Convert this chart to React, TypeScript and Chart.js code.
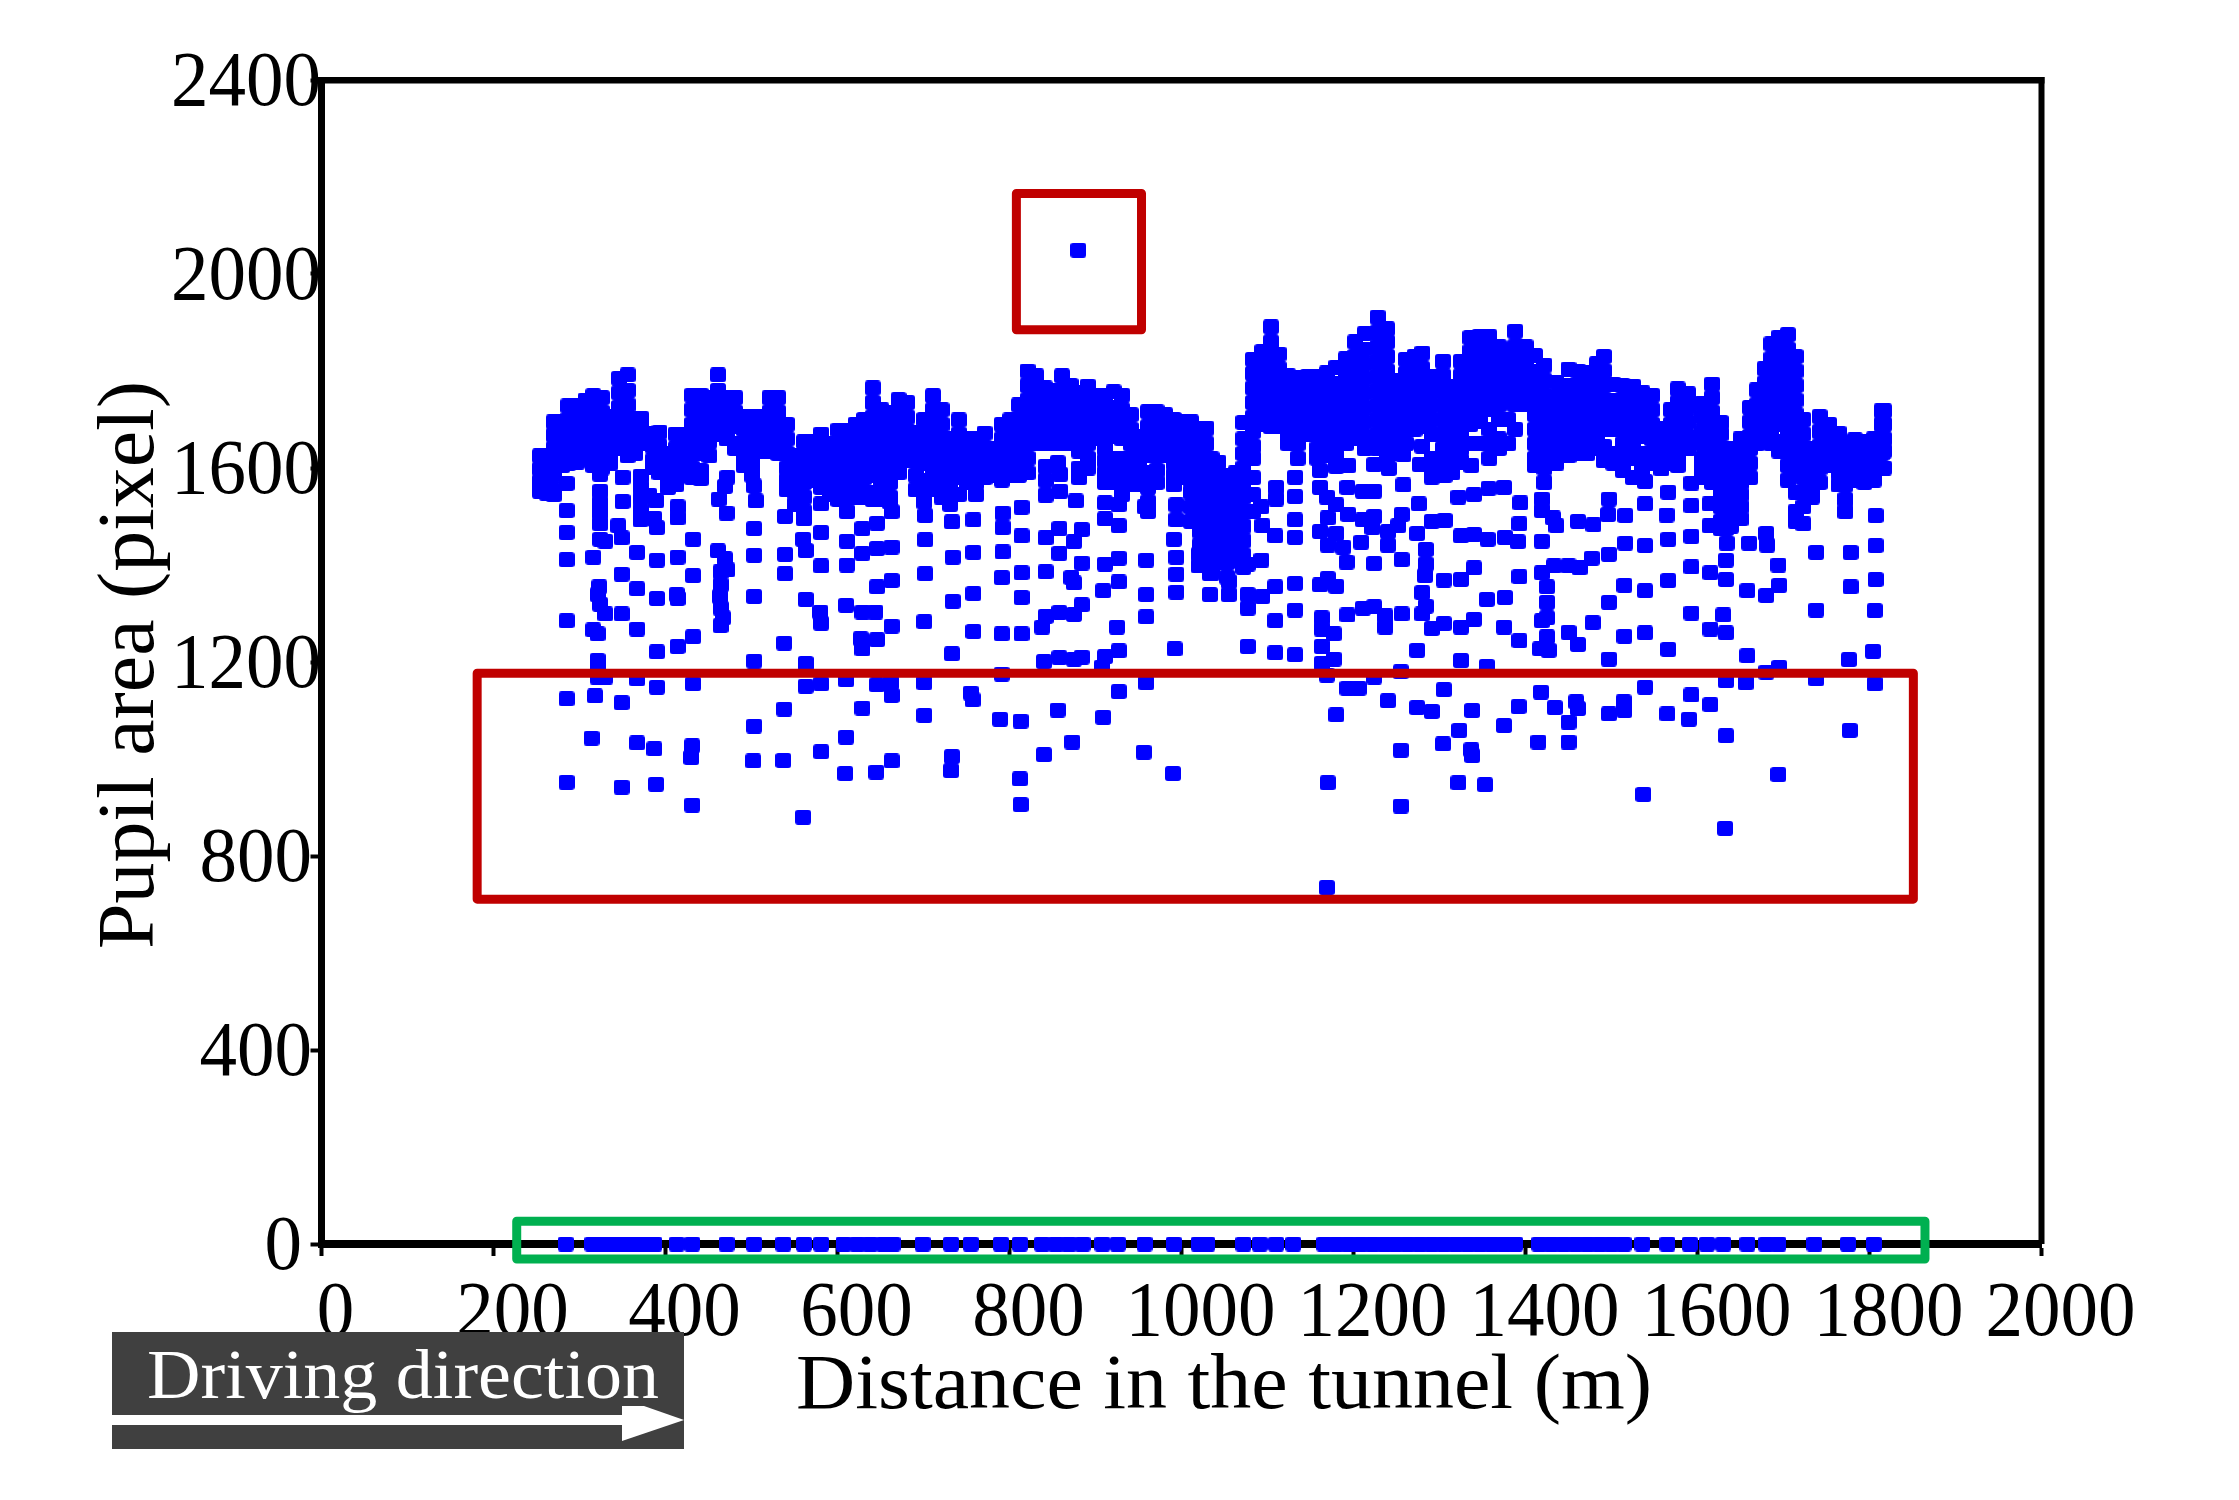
import React from "react";
import { Chart, registerables } from "chart.js";

Chart.register(...registerables);

const xTicks = [0, 200, 400, 600, 800, 1000, 1200, 1400, 1600, 1800, 2000];
const yTicks = [0, 400, 800, 1200, 1600, 2000, 2400];

// every row is one distance followed by the pupil areas read at that distance
const bandRows: number[][] = [
    [254, 1625, 1598, 1572, 1552], [262, 1625, 1600, 1575, 1548], [270, 1695, 1668, 1640, 1612, 1585, 1555, 1545],
    [280, 1695, 1665, 1635, 1605], [287, 1728, 1700, 1670, 1640, 1610], [297, 1728, 1700, 1670, 1640, 1612],
    [307, 1740, 1710, 1680, 1650, 1620], [316, 1749, 1720, 1690, 1660, 1630, 1605], [326, 1745, 1715, 1685, 1655, 1625, 1600],
    [336, 1706, 1680, 1650, 1620, 1610], [346, 1785, 1755, 1725, 1695, 1665, 1640], [356, 1792, 1760, 1730, 1700, 1670, 1640, 1625],
    [365, 1702, 1675, 1645, 1630], [372, 1702, 1680, 1650], [385, 1672, 1645, 1615, 1602], [393, 1674, 1645, 1615, 1590],
    [403, 1630, 1600, 1575, 1560], [412, 1670, 1640, 1610, 1585, 1565], [422, 1670, 1640, 1610, 1585],
    [431, 1750, 1720, 1690, 1660, 1630, 1600, 1580], [441, 1750, 1720, 1690, 1660, 1630, 1595, 1578],
    [451, 1745, 1715, 1685, 1655, 1625], [461, 1792, 1760, 1730, 1700, 1670], [471, 1745, 1715, 1685, 1660],
    [481, 1745, 1715, 1685, 1650, 1640], [491, 1706, 1680, 1650, 1620, 1605], [501, 1706, 1680, 1650, 1620, 1600, 1585],
    [511, 1706, 1680, 1650, 1635], [521, 1745, 1715, 1685, 1655, 1635], [531, 1745, 1715, 1685, 1655, 1630],
    [541, 1690, 1660, 1630, 1600, 1575, 1555], [551, 1625, 1600, 1575, 1550, 1525], [561, 1654, 1625, 1595, 1570, 1540, 1510, 1495],
    [571, 1654, 1625, 1600, 1575], [581, 1670, 1640, 1610, 1580, 1560], [591, 1650, 1620, 1590, 1565, 1545],
    [601, 1678, 1650, 1620, 1590, 1560, 1535], [611, 1678, 1650, 1620, 1590, 1560, 1540], [621, 1690, 1660, 1630, 1600, 1570, 1540],
    [631, 1700, 1670, 1640, 1610, 1580, 1550, 1540], [641, 1765, 1735, 1705, 1675, 1645, 1615, 1585, 1550, 1535],
    [651, 1720, 1690, 1660, 1630, 1600, 1575, 1550, 1535], [661, 1715, 1685, 1655, 1625, 1600, 1570, 1540, 1530],
    [671, 1741, 1710, 1680, 1650, 1620, 1590], [681, 1735, 1705, 1675, 1645, 1615], [691, 1674, 1645, 1615, 1585, 1555],
    [701, 1700, 1670, 1640, 1610, 1575, 1545, 1530], [711, 1749, 1720, 1690, 1660, 1630, 1600, 1570, 1555],
    [721, 1720, 1690, 1660, 1630, 1600, 1570, 1540], [731, 1660, 1630, 1600, 1570, 1540, 1525], [741, 1699, 1670, 1640, 1610, 1580, 1545],
    [751, 1660, 1630, 1600, 1570], [761, 1660, 1630, 1600, 1570, 1545], [771, 1672, 1640, 1610, 1580], [781, 1640, 1610, 1585],
    [791, 1690, 1660, 1630, 1600, 1575], [801, 1699, 1670, 1640, 1610, 1585], [811, 1730, 1700, 1670, 1640, 1610, 1585],
    [821, 1800, 1770, 1740, 1710, 1680, 1650, 1620, 1590], [831, 1790, 1760, 1730, 1700, 1670, 1650], [841, 1765, 1735, 1705, 1675, 1650],
    [851, 1760, 1730, 1700, 1670, 1650], [861, 1790, 1760, 1730, 1700, 1670, 1650], [871, 1770, 1740, 1710, 1680, 1650],
    [881, 1755, 1725, 1695, 1665, 1635, 1600, 1580], [891, 1769, 1740, 1710, 1680, 1650, 1620, 1600], [901, 1750, 1720, 1690, 1660],
    [911, 1750, 1720, 1690, 1660, 1640, 1615, 1590, 1570], [921, 1757, 1725, 1695, 1665, 1620, 1590, 1570],
    [931, 1750, 1720, 1690, 1660, 1620, 1590, 1575, 1545], [941, 1710, 1680, 1650, 1620, 1590, 1565], [951, 1665, 1640, 1610, 1585, 1565],
    [961, 1716, 1685, 1655, 1625, 1590, 1560, 1530, 1510], [971, 1716, 1685, 1655, 1625, 1595, 1570], [981, 1710, 1680, 1650, 1625],
    [991, 1700, 1670, 1640, 1610, 1585, 1565], [1001, 1695, 1665, 1635, 1605, 1580], [1011, 1695, 1665, 1635, 1605, 1575, 1550, 1520, 1490],
    [1021, 1682, 1650, 1620, 1590, 1560, 1530, 1500, 1470, 1440, 1410], [1029, 1682, 1650, 1620, 1590, 1560, 1530, 1500, 1470, 1440, 1410],
    [1035, 1619, 1590, 1560, 1530, 1500, 1470, 1440, 1410], [1043, 1612, 1585, 1555, 1525, 1495, 1465, 1435, 1405],
    [1053, 1585, 1555, 1525, 1495, 1465, 1435, 1405, 1375], [1063, 1590, 1560, 1530, 1500, 1470, 1440, 1410],
    [1072, 1694, 1660, 1630, 1600, 1570, 1540, 1510, 1480, 1450, 1420, 1395], [1083, 1824, 1795, 1765, 1735, 1705, 1675, 1645, 1620, 1580, 1545, 1510],
    [1094, 1840, 1810, 1780, 1750, 1720, 1690], [1104, 1891, 1860, 1830, 1800, 1770, 1740, 1710, 1685], [1113, 1835, 1805, 1775, 1745, 1715, 1685],
    [1124, 1790, 1760, 1730, 1700, 1670, 1650], [1135, 1786, 1755, 1725, 1695, 1665, 1650, 1620], [1147, 1789, 1760, 1730, 1700, 1670],
    [1158, 1789, 1760, 1730, 1700, 1670, 1640, 1620], [1169, 1796, 1765, 1735, 1705, 1675, 1645, 1625], [1180, 1808, 1775, 1745, 1715, 1685, 1655, 1625],
    [1191, 1825, 1795, 1765, 1735, 1705, 1675, 1650], [1202, 1860, 1830, 1800, 1770, 1740, 1710, 1680, 1660],
    [1213, 1877, 1845, 1815, 1785, 1755, 1725, 1695, 1665, 1640], [1228, 1911, 1880, 1850, 1820, 1790, 1760, 1730, 1700, 1670, 1640],
    [1239, 1887, 1860, 1830, 1800, 1770, 1740, 1710, 1680, 1650, 1625], [1249, 1781, 1750, 1720, 1690, 1660, 1630],
    [1261, 1824, 1795, 1765, 1735, 1705, 1680, 1650], [1271, 1830, 1800, 1770, 1740, 1710, 1680], [1280, 1837, 1805, 1775, 1745, 1715, 1685, 1645],
    [1291, 1789, 1760, 1730, 1700, 1670, 1620, 1600], [1304, 1820, 1790, 1760, 1730, 1700, 1670, 1640, 1615, 1590], [1315, 1769, 1740, 1710, 1680, 1650, 1620, 1590],
    [1325, 1820, 1790, 1760, 1730, 1700, 1670, 1640, 1615], [1336, 1869, 1840, 1810, 1780, 1750, 1720, 1690, 1650],
    [1347, 1872, 1840, 1810, 1780, 1750, 1720, 1695, 1650], [1358, 1871, 1840, 1810, 1780, 1750, 1720, 1680, 1650, 1620],
    [1369, 1850, 1820, 1790, 1760, 1730, 1700, 1660, 1640], [1380, 1828, 1800, 1770, 1740, 1700, 1650], [1388, 1882, 1850, 1820, 1790, 1760, 1730, 1680],
    [1400, 1850, 1820, 1790, 1760, 1730], [1411, 1832, 1800, 1770, 1740, 1710, 1680, 1650, 1620, 1605], [1422, 1812, 1780, 1750, 1720, 1690, 1660, 1630, 1600, 1570],
    [1436, 1777, 1745, 1715, 1685, 1655, 1625, 1610], [1450, 1804, 1770, 1740, 1710, 1680, 1650, 1625], [1461, 1800, 1770, 1740, 1710, 1680, 1650, 1630],
    [1472, 1796, 1765, 1735, 1705, 1675, 1645, 1630], [1483, 1815, 1785, 1755, 1725, 1695, 1665, 1640], [1491, 1830, 1800, 1770, 1740, 1710, 1680, 1645, 1615],
    [1502, 1773, 1740, 1710, 1680, 1630, 1610], [1513, 1770, 1740, 1710, 1680, 1650, 1620, 1595], [1525, 1769, 1740, 1710, 1680, 1650, 1620, 1580],
    [1536, 1755, 1725, 1695, 1665, 1630, 1610, 1590], [1547, 1750, 1720, 1690, 1660, 1630, 1610], [1558, 1682, 1650, 1620, 1598],
    [1569, 1720, 1690, 1660, 1630, 1610], [1577, 1763, 1735, 1705, 1675, 1645, 1620, 1605], [1589, 1753, 1725, 1695, 1665, 1640],
    [1605, 1733, 1705, 1675, 1650, 1620, 1600, 1580], [1617, 1773, 1745, 1715, 1685, 1655, 1625, 1595, 1570],
    [1627, 1694, 1670, 1640, 1610, 1580, 1550, 1520, 1490, 1475], [1639, 1640, 1610, 1580, 1550, 1520, 1500, 1480],
    [1650, 1660, 1630, 1600, 1570, 1545, 1520, 1495], [1661, 1725, 1695, 1665, 1640, 1610, 1580], [1669, 1761, 1730, 1700, 1670, 1650],
    [1678, 1805, 1775, 1745, 1715, 1685, 1655], [1686, 1856, 1825, 1795, 1765, 1735, 1705, 1675, 1650], [1695, 1870, 1840, 1810, 1780, 1750, 1720, 1690, 1655, 1635],
    [1705, 1875, 1845, 1815, 1785, 1755, 1725, 1695, 1665, 1635, 1605, 1575], [1714, 1830, 1800, 1770, 1740, 1710, 1680, 1650, 1620, 1590, 1550, 1510, 1490],
    [1723, 1700, 1670, 1640, 1610, 1580, 1550, 1520, 1485], [1733, 1640, 1610, 1580, 1555, 1540], [1742, 1706, 1675, 1645, 1615, 1600, 1570],
    [1753, 1690, 1660, 1630, 1605], [1764, 1672, 1645, 1615, 1590, 1565], [1772, 1650, 1620, 1590, 1565, 1535, 1510], [1783, 1658, 1630, 1600, 1575],
    [1794, 1654, 1625, 1595, 1570], [1805, 1660, 1630, 1600, 1575], [1814, 1718, 1690, 1660, 1630, 1600], [1817, 1718, 1690, 1660, 1635, 1600],
];

const lowerRows: number[][] = [
    [285, 1568, 1512, 1467, 1411, 1285, 1124, 952], [316, 1416, 1266], [321, 1258, 1203, 1185, 1169, 1339], [330, 1169, 1449, 1299], [318, 1130], [314, 1043],
    [324, 1615, 1587, 1552, 1528, 1508, 1485, 1453, 1319], [323, 1355], [350, 1581, 1531], [345, 1481], [349, 1456, 1381, 1299, 1116, 942],
    [367, 1426, 1351, 1268, 1165, 1033], [371, 1583, 1560, 1536, 1512, 1493], [381, 1544], [389, 1532, 948], [387, 1496, 1021], [390, 1477, 1410, 1331, 1221, 1148],
    [414, 1520, 1497, 1416, 1331, 1232], [413, 1339], [432, 1453, 1378, 1252, 1155], [431, 1027, 905], [430, 1003],
    [462, 1536], [469, 1562, 1413], [472, 1581, 1390], [471, 1507], [461, 1429], [464, 1386, 1359, 1311, 1275], [463, 1335], [467, 1291],
    [505, 1532], [503, 1563, 1475, 1420, 1335, 1202, 1068], [502, 996], [539, 1500, 1422, 1382], [538, 1239, 1103], [537, 997], [560, 1453, 880],
    [563, 1430, 1329, 1197, 1150], [581, 1526, 1467, 1398, 1280, 1155, 1015], [580, 1303], [611, 1510, 1449, 1400], [610, 1317, 1163, 1045], [609, 970],
    [629, 1475, 1424, 1303, 1227, 1105], [627, 1248], [646, 1486, 1434, 1355, 1246, 1153], [644, 1303], [645, 973], [663, 1510, 1437, 1368, 1274, 1131, 996], [662, 1157],
    [702, 1502, 1452, 1382], [701, 1283, 1157, 1090], [733, 1489, 1217, 1005], [734, 1416, 1325], [732, 976], [758, 1493, 1426, 1341, 1263], [755, 1136], [757, 1122],
    [792, 1507, 1477, 1427], [791, 1374, 1258, 1175], [789, 1082], [814, 1519, 1460, 1384, 1333, 1258], [813, 1078, 906], [812, 959],
    [842, 1603, 1575, 1544, 1456, 1386, 1294], [838, 1272], [840, 1201, 1009], [858, 1475, 1424, 1302, 1209], [856, 1611, 1101], [859, 1587, 1552],
    [877, 1532], [875, 1448, 1363, 1298, 1206], [884, 1473, 1404, 1318, 1210], [872, 1374], [873, 1035], [911, 1528, 1495, 1402, 1211], [909, 1347, 1086], [925, 1272], [907, 1189],
    [927, 1524, 1481, 1414, 1365, 1223, 1139], [957, 1520], [959, 1410, 1339, 1293, 1157], [956, 1014], [994, 1524, 1493, 1416, 1381, 1344], [991, 1453], [992, 1227], [990, 970], [1020, 1516, 1489, 1422, 1398],
    [1033, 1339, 1382], [1035, 1382], [1055, 1339, 1366], [1077, 1402, 1339, 1311, 1232], [1093, 1520, 1410], [1094, 1481, 1335], [1109, 1460, 1355, 1285, 1219],
    [1110, 1560, 1536], [1132, 1581, 1541, 1493, 1457, 1362, 1307, 1215], [1161, 1595, 1560, 1469, 1359], [1163, 1291, 1268, 1232, 1197], [1169, 1540, 1173], [1170, 1497, 1441, 1372, 951],
    [1177, 1258, 1206], [1180, 1603, 1524, 1465, 1356, 1091], [1188, 1437], [1192, 1406], [1193, 1560, 1297, 1146], [1194, 1605, 1504], [1206, 1146], [1209, 1447],
    [1211, 1552, 1493, 1311], [1222, 1477], [1224, 1607, 1552, 1500, 1403, 1314, 1169], [1237, 1295, 1272], [1240, 1469, 1441, 1120], [1241, 1599], [1252, 1481],
    [1255, 1180, 1018, 903], [1256, 1504, 1411, 1299], [1258, 1627, 1565], [1274, 1465, 1224, 1106], [1276, 1526], [1277, 1607], [1280, 1343, 1299], [1283, 1378], [1284, 1432, 1402, 1315],
    [1291, 1581, 1490, 1269, 1098], [1304, 1031], [1305, 1369, 1279, 1143], [1306, 1585, 1492], [1322, 1540, 951], [1323, 1059], [1325, 1611, 1460, 1370, 1272, 1203],
    [1337, 1605, 1019], [1338, 1100, 1007], [1340, 1545, 1463, 1394, 1288], [1353, 947], [1355, 1329, 1191], [1356, 1453], [1357, 1558], [1375, 1560, 1272, 1069], [1376, 1457, 1333],
    [1391, 1448], [1392, 1108], [1393, 1485, 1376, 1244], [1394, 1528], [1415, 1035], [1417, 1227], [1418, 1138], [1419, 1536, 1512, 1449, 1384, 1285], [1425, 1355, 1323, 1291, 1252], [1427, 1224],
    [1432, 1497], [1433, 1398], [1434, 1106], [1436, 1481], [1450, 1398, 1261, 1076, 1035], [1459, 1118], [1461, 1490, 1236, 1104], [1463, 1394], [1477, 1414], [1478, 1281], [1479, 1483],
    [1496, 1504], [1497, 1536, 1422, 1323, 1206, 1093], [1514, 1118], [1515, 1358, 1253, 1100], [1516, 1502, 1445], [1537, 927], [1539, 1572, 1526, 1440, 1347, 1260, 1148],
    [1564, 1503], [1565, 1093], [1566, 1550, 1453, 1368, 1226], [1590, 1082], [1593, 1569, 1522, 1459, 1396, 1301, 1132], [1614, 1526, 1481], [1615, 1384, 1268, 1112],
    [1630, 1297], [1632, 857], [1633, 1475, 1410, 1370, 1260, 1161, 1048], [1634, 1445], [1656, 1157], [1658, 1347, 1213], [1660, 1445], [1680, 1465, 1337, 1179], [1681, 1441],
    [1694, 1400, 968], [1695, 1358, 1189], [1738, 1426, 1307, 1165], [1776, 1205], [1777, 1059], [1778, 1426, 1355], [1804, 1222], [1806, 1306, 1155], [1807, 1502, 1440, 1370],
    [1169, 735], [880, 2049],
];

// blinks, recorded as zero area
const blinkDistance = [
    284, 315, 324, 335, 345, 355, 366, 376, 387, 413, 431, 471, 503, 537, 561, 581, 607, 623, 638, 654, 664, 699, 732, 755, 790, 812,
    838, 854, 869, 885, 908, 926, 957, 991, 1020, 1030, 1072, 1091, 1110, 1130, 1166, 1180, 1194, 1208, 1222, 1236, 1249, 1263, 1277,
    1291, 1305, 1319, 1333, 1347, 1361, 1375, 1388, 1416, 1430, 1444, 1458, 1472, 1486, 1500, 1514, 1536, 1565, 1591, 1611, 1630, 1658,
    1680, 1694, 1736, 1775, 1805,
];

// highlight boxes in data units: x from, x to, y from, y to
const outlierBox = [808, 953.5, 1885, 2166];
const dropBox = [181, 1851, 711, 1177];
const blinkBox = [227, 1864.5, -31, 47];

const unroll = (rows: number[][]) => rows.flatMap(([x, ...areas]) => areas.map((y) => ({ x, y })));

// the marks are squares with slightly clipped corners, none of the built in styles look like that
const makeMark = () => {
    const mark = document.createElement("canvas");
    mark.width = 16;
    mark.height = 15;
    const ctx = mark.getContext("2d")!;
    ctx.fillStyle = "#0000FF";
    ctx.beginPath();
    ctx.roundRect(0, 0, 16, 15, 3);
    ctx.fill();
    return mark;
};

const stretchedText = (ctx: CanvasRenderingContext2D, text: string, x: number, y: number, size: number, width: number) => {
    // the original type is narrow and tall, so squeeze it to the measured width
    ctx.font = `${size}px "Liberation Serif"`;
    const measured = ctx.measureText(text).width;
    ctx.save();
    ctx.translate(x, y);
    ctx.scale(width / measured, 1);
    ctx.textAlign = "left";
    ctx.textBaseline = "alphabetic";
    ctx.fillText(text, 0, 0);
    ctx.restore();
};

const drawBox = (chart: any, box: number[], color: string) => {
    const { ctx, scales } = chart;
    const left = scales.x.getPixelForValue(box[0]);
    const right = scales.x.getPixelForValue(box[1]);
    const bottom = scales.y.getPixelForValue(box[2]);
    const top = scales.y.getPixelForValue(box[3]);
    ctx.save();
    ctx.strokeStyle = color;
    ctx.lineWidth = 9;
    ctx.lineJoin = "round";
    ctx.strokeRect(left, top, right - left, bottom - top);
    ctx.restore();
};

const framePlugin = {
    id: "frame",
    afterDatasetsDraw(chart: any) {
        const { ctx, chartArea } = chart;
        ctx.save();
        ctx.fillStyle = "#000";
        ctx.fillRect(chartArea.left - 3, chartArea.top - 3, chartArea.right - chartArea.left + 6, 6.5);
        ctx.fillRect(chartArea.right - 3, chartArea.top - 3, 6, chartArea.bottom - chartArea.top + 3);
        ctx.restore();
        drawBox(chart, outlierBox, "#C00000");
        drawBox(chart, dropBox, "#C00000");
        drawBox(chart, blinkBox, "#00B050");
    },
    afterDraw(chart: any) {
        const { ctx, scales } = chart;
        ctx.save();
        ctx.fillStyle = "#000";
        // tick labels sit to the right of their ticks in the original
        scales.x.ticks.forEach((tick: any, i: number) => {
            const label = String(tick.value);
            const width = label.length * 37.5;
            const shift = label.length === 1 ? 14 : 19;
            stretchedText(ctx, label, scales.x.getPixelForTick(i) + shift - width / 2, 1335, 78, width);
        });
        scales.y.ticks.forEach((tick: any, i: number) => {
            const label = String(tick.value);
            const width = label.length * 37.5;
            const right = label.length === 4 ? 321 : label.length === 3 ? 312 : 302;
            stretchedText(ctx, label, right - width, scales.y.getPixelForTick(i) + 25, 78, width);
        });
        stretchedText(ctx, "Distance in the tunnel (m)", 796, 1408, 78, 856);

        ctx.save();
        ctx.translate(153, 949);
        ctx.rotate(-Math.PI / 2);
        stretchedText(ctx, "Pupil area (pixel)", 0, 0, 80, 568);
        ctx.restore();

        // driving direction banner, drawn last because it covers the first tick labels
        ctx.fillStyle = "#404040";
        ctx.fillRect(112, 1332, 572, 117);
        ctx.fillStyle = "#fff";
        stretchedText(ctx, "Driving direction", 147, 1398, 70, 512);
        ctx.fillRect(112, 1415, 510, 10);
        ctx.beginPath();
        ctx.moveTo(622, 1406);
        ctx.lineTo(644, 1406);
        ctx.lineTo(684, 1420);
        ctx.lineTo(622, 1441);
        ctx.closePath();
        ctx.fill();
        ctx.restore();
    },
};

export default function App() {
    const canvasRef = React.useRef<HTMLCanvasElement | null>(null);

    React.useEffect(() => {
        if (!canvasRef.current) return;
        const marks = {
            pointStyle: makeMark(),
            pointRadius: 9,
            pointBorderWidth: 0,
            pointBackgroundColor: "#0000FF",
            showLine: false,
            clip: false,
        };
        const chart = new Chart(canvasRef.current, {
            type: "scatter",
            data: {
                datasets: [
                    { ...marks, label: "Pupil area", data: unroll(bandRows) },
                    { ...marks, label: "Small pupil area", data: unroll(lowerRows) },
                    { ...marks, label: "Blink", data: blinkDistance.map((x) => ({ x, y: 0 })) },
                ],
            },
            options: {
                animation: false,
                responsive: false,
                devicePixelRatio: 1,
                layout: { padding: { left: 310.5, top: 80, right: 197.5, bottom: 244 } },
                plugins: { legend: { display: false }, tooltip: { enabled: false } },
                scales: {
                    x: {
                        type: "linear",
                        min: xTicks[0],
                        max: xTicks[xTicks.length - 1],
                        ticks: { display: false, stepSize: xTicks[1] - xTicks[0] },
                        grid: { drawOnChartArea: false, tickLength: 12, tickWidth: 4, tickColor: "#000" },
                        border: { color: "#000", width: 8 },
                    },
                    y: {
                        type: "linear",
                        min: yTicks[0],
                        max: yTicks[yTicks.length - 1],
                        ticks: { display: false, stepSize: yTicks[1] - yTicks[0] },
                        grid: { drawOnChartArea: false, tickLength: 11, tickWidth: 4, tickColor: "#000" },
                        border: { color: "#000", width: 7 },
                    },
                },
            },
            plugins: [framePlugin],
        } as any);
        return () => chart.destroy();
    }, []);

    return (
        <div style={{ position: "absolute", left: 0, top: 0, width: 2239, height: 1500, background: "#fff" }}>
            <canvas ref={canvasRef} width={2239} height={1500} style={{ display: "block" }} />
        </div>
    );
}
